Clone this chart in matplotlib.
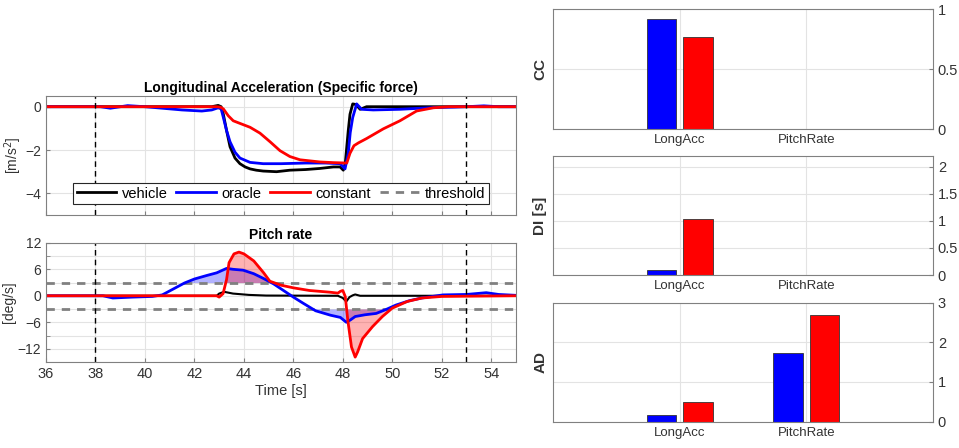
import matplotlib
matplotlib.use("Agg")
import matplotlib.pyplot as plt
import numpy as np

plt.rcParams["font.family"] = ["Liberation Sans", "DejaVu Sans"]

# ── time series ──────────────────────────────────────────────────────────────
acc_veh_t = [36, 38, 40, 42, 42.7, 42.96, 43.08, 43.17, 43.3, 43.44, 43.64, 43.84, 44.05,
             44.25, 44.5, 44.78, 45.32, 45.86, 46.5, 47.07, 47.62, 47.89, 48.02, 48.1,
             48.16, 48.22, 48.29, 48.4, 48.53, 48.7, 48.96, 50, 55]
acc_veh = [0, 0, 0, 0, 0.0, 0.06, 0.0, -0.35, -1.1, -1.85, -2.37, -2.63, -2.78,
           -2.87, -2.93, -2.97, -3.0, -2.93, -2.9, -2.85, -2.78, -2.78, -2.93, -2.6,
           -1.85, -1.1, -0.35, 0.13, 0.1, -0.12, 0.0, 0, 0]

acc_ora_t = [36, 38.2, 38.6, 39.3, 40.0, 40.5, 41.5, 41.82, 42.3, 42.7, 42.96, 43.08,
             43.17, 43.3, 43.44, 43.64, 43.84, 44.25, 44.78, 45.5, 46.5, 47.3, 47.89,
             48.09, 48.22, 48.3, 48.4, 48.56, 48.76, 49.23, 50.3, 51.66, 52.5, 53.0,
             53.7, 54.3, 55]
acc_ora = [0, 0, -0.07, 0.05, 0.0, -0.05, -0.15, -0.17, -0.2, -0.15, -0.05, -0.1,
           -0.5, -1.1, -1.62, -2.1, -2.37, -2.57, -2.63, -2.63, -2.6, -2.6, -2.63,
           -2.87, -2.15, -1.2, -0.5, 0.13, -0.12, -0.15, -0.12, -0.04, -0.02, 0.0,
           0.04, 0.0, 0]

acc_con_t = [36, 42.9, 43.05, 43.17, 43.37, 43.57, 43.84, 44.25, 44.65, 45.06, 45.46,
             45.86, 46.27, 47.07, 47.6, 48.16, 48.29, 48.45, 48.63, 48.96, 49.64,
             50.31, 50.98, 51.66, 52.3, 55]
acc_con = [0, 0, -0.02, -0.1, -0.42, -0.65, -0.77, -0.95, -1.22, -1.62, -2.03,
           -2.3, -2.45, -2.55, -2.58, -2.6, -2.15, -1.8, -1.67, -1.47, -1.02,
           -0.65, -0.2, -0.05, 0, 0]

pr_veh_t = [36, 42.9, 43.0, 43.2, 43.56, 44.2, 44.9, 47.8, 48.0, 48.14, 48.27, 48.4,
            48.5, 48.7, 55]
pr_veh = [0, 0, 0.5, 0.9, 0.5, 0.2, 0.05, 0, -0.5, -1.3, -0.3, 0.1, 0.3, 0, 0]

pr_ora_t = [36, 38.3, 38.7, 39.5, 40.3, 40.7, 41.1, 41.6, 42.0, 42.5, 42.9, 43.3,
            43.56, 43.97, 44.4, 44.8, 45.2, 45.6, 46.0, 46.4, 46.9, 47.5, 47.9,
            48.14, 48.3, 48.5, 48.9, 49.35, 49.75, 50.15, 50.7, 51.2, 52.05, 53.0,
            53.8, 54.3, 55]
pr_ora = [0, 0, -0.5, -0.3, -0.15, 0.2, 1.4, 2.9, 3.8, 4.6, 5.2, 6.2,
          6.0, 5.8, 5.0, 3.9, 2.7, 1.2, -0.3, -1.7, -3.4, -4.4, -4.9,
          -6.0, -5.5, -4.7, -4.3, -4.0, -3.1, -2.1, -1.1, -0.5, 0.2, 0.3,
          0.7, 0.3, 0.1]

pr_con_t = [36, 42.9, 43.0, 43.16, 43.3, 43.4, 43.6, 43.8, 44.0, 44.4, 44.8, 45.05,
            45.5, 46.0, 46.65, 47.5, 47.8, 47.9, 48.0, 48.1, 48.2, 48.35, 48.5,
            48.6, 48.8, 49.2, 49.6, 50.0, 50.6, 51.2, 52.0, 55]
pr_con = [0, 0, -0.3, 0.5, 3.7, 7.5, 9.5, 9.9, 9.5, 7.9, 5.2, 3.3,
          2.4, 1.8, 1.2, 0.8, 0.6, 1.0, 1.2, -0.2, -5.5, -11.6, -13.9,
          -12.7, -9.7, -7.0, -4.7, -2.8, -1.3, -0.5, -0.15, 0]

pr_threshold = 3.0
window = [38, 53]

# ── metrics ──────────────────────────────────────────────────────────────────
signals = ["LongAcc", "PitchRate"]
cc_oracle = [0.917, np.nan]
cc_constant = [0.772, np.nan]
di_oracle = [0.093, np.nan]
di_constant = [1.035, np.nan]
ad_oracle = [0.16, 1.72]
ad_constant = [0.50, 2.68]

SPINE = "#808080"
TXT = "#333333"
GRID = "#e3e3e3"


def _style(ax):
    for s in ax.spines.values():
        s.set_color(SPINE)
        s.set_linewidth(0.8)
    ax.tick_params(direction="in", colors=SPINE, labelcolor=TXT, labelsize=10,
                   length=3, which="both")
    ax.grid(True, color=GRID, linewidth=0.8, which="both")
    ax.set_axisbelow(True)


fig = plt.figure(figsize=(9.59, 4.48), dpi=100)

# ── longitudinal acceleration ────────────────────────────────────────────────
ax1 = fig.add_axes([0.048, 0.520, 0.490, 0.266])
_style(ax1)
ax1.plot(acc_veh_t, acc_veh, color="k", lw=2.0, label="vehicle")
ax1.plot(acc_ora_t, acc_ora, color="b", lw=2.0, label="oracle")
ax1.plot(acc_con_t, acc_con, color="r", lw=2.0, label="constant")
ax1.plot([], [], color="#808080", lw=2.0, ls=(0, (3, 2.5)), label="threshold")
for w in window:
    ax1.axvline(w, color="k", lw=1.0, ls=(0, (4, 3)))
ax1.set_xlim(36, 55)
ax1.set_ylim(-5, 0.5)
ax1.set_xticks(np.arange(36, 55, 2))
ax1.set_xticklabels([])
ax1.set_yticks([-4, -2, 0])
ax1.set_ylabel("[m/s$^2$]", fontsize=10, color=TXT, labelpad=1)
ax1.set_title("Longitudinal Acceleration (Specific force)", fontsize=10,
              fontweight="bold", pad=3)
leg = ax1.legend(loc="lower center", ncol=4, fontsize=10.5, frameon=True,
                 fancybox=False, edgecolor="#262626", framealpha=1,
                 handlelength=2.7, columnspacing=0.6, handletextpad=0.4,
                 borderpad=0.25, bbox_to_anchor=(0.5, 0.03))
leg.get_frame().set_linewidth(0.8)

# ── pitch rate ───────────────────────────────────────────────────────────────
ax2 = fig.add_axes([0.048, 0.192, 0.490, 0.266])
_style(ax2)
t_o = np.array(pr_ora_t)
q_o = np.array(pr_ora)
t_c = np.array(pr_con_t)
q_c = np.array(pr_con)
ax2.fill_between(t_o, q_o, pr_threshold, where=q_o > pr_threshold,
                 interpolate=True, color="b", alpha=0.3, lw=0)
ax2.fill_between(t_o, q_o, -pr_threshold, where=q_o < -pr_threshold,
                 interpolate=True, color="b", alpha=0.3, lw=0)
ax2.fill_between(t_c, q_c, pr_threshold, where=q_c > pr_threshold,
                 interpolate=True, color="r", alpha=0.3, lw=0)
ax2.fill_between(t_c, q_c, -pr_threshold, where=q_c < -pr_threshold,
                 interpolate=True, color="r", alpha=0.3, lw=0)
ax2.axhline(pr_threshold, color="#808080", lw=2.0, ls=(0, (3, 2.5)))
ax2.axhline(-pr_threshold, color="#808080", lw=2.0, ls=(0, (3, 2.5)))
ax2.plot(pr_veh_t, pr_veh, color="k", lw=1.5)
ax2.plot(pr_ora_t, pr_ora, color="b", lw=2.0)
ax2.plot(pr_con_t, pr_con, color="r", lw=2.0)
for w in window:
    ax2.axvline(w, color="k", lw=1.0, ls=(0, (4, 3)))
ax2.set_xlim(36, 55)
ax2.set_ylim(-15, 12)
ax2.set_xticks(np.arange(36, 55, 2))
ax2.set_yticks([-12, -6, 0, 6, 12])
ax2.set_yticks(np.arange(-15, 13, 3), minor=True)
ax2.tick_params(axis="x", labelsize=10.5)
ax2.set_ylabel("[deg/s]", fontsize=10, color=TXT, labelpad=1)
ax2.set_xlabel("Time [s]", fontsize=10.5, color=TXT, labelpad=2)
ax2.set_title("Pitch rate", fontsize=10, fontweight="bold", pad=3)

# ── metric bars ──────────────────────────────────────────────────────────────
pos = np.arange(1, len(signals) + 1)
bar_w = 0.23
off = 0.145
panels = [
    ([0.5766, 0.7114, 0.3963, 0.268], cc_oracle, cc_constant, "CC", 1, [0, 0.5, 1]),
    ([0.5766, 0.386, 0.3963, 0.266], di_oracle, di_constant, "DI [s]", 2.2,
     [0, 0.5, 1, 1.5, 2]),
    ([0.5766, 0.0587, 0.3963, 0.266], ad_oracle, ad_constant, "AD", 3, [0, 1, 2, 3]),
]
for rect, ora, con, lab, top, ticks in panels:
    ax = fig.add_axes(rect)
    _style(ax)
    ax.bar(pos - off, ora, width=bar_w, color="b", edgecolor="#333333", lw=0.6)
    ax.bar(pos + off, con, width=bar_w, color="r", edgecolor="#333333", lw=0.6)
    ax.set_xlim(0, 3)
    ax.set_ylim(0, top)
    ax.set_xticks(pos)
    ax.set_xticklabels(signals)
    ax.set_yticks(ticks)
    ax.set_yticklabels([f"{v:g}" for v in ticks])
    ax.yaxis.tick_right()
    ax.tick_params(axis="y", labelsize=10.5)
    ax.tick_params(axis="x", labelsize=9.5, length=0)
    ax.set_ylabel(lab, fontsize=11, fontweight="bold", color=TXT, labelpad=4)
    ax.yaxis.set_label_position("left")

fig.savefig("out.png", dpi=100)
